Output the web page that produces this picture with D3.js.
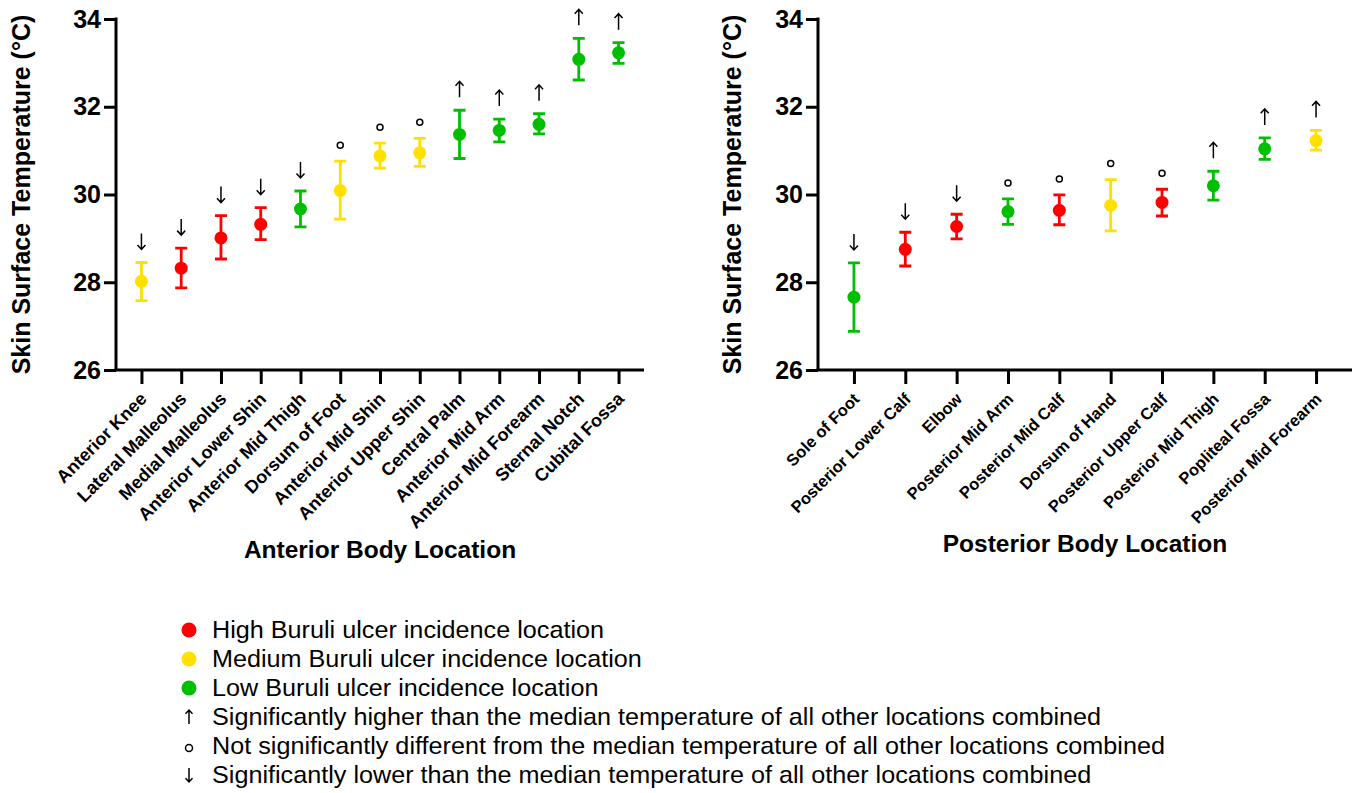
<!DOCTYPE html>
<html><head><meta charset="utf-8">
<script src="https://cdn.jsdelivr.net/npm/d3@7"></script>
<style>
body{margin:0;background:#fff;}
text{font-family:"Liberation Sans",Arial,sans-serif;}
</style></head>
<body><svg id="c" width="1357" height="793"></svg>
<script>
// ---- data ----
const anteriorLocations = ["Anterior Knee","Lateral Malleolus","Medial Malleolus","Anterior Lower Shin","Anterior Mid Thigh","Dorsum of Foot","Anterior Mid Shin","Anterior Upper Shin","Central Palm","Anterior Mid Arm","Anterior Mid Forearm","Sternal Notch","Cubital Fossa"];
const anteriorMedian = [28.02,28.32,29.01,29.32,29.67,30.09,30.88,30.95,31.37,31.46,31.60,33.08,33.23];
const anteriorUpper  = [28.45,28.78,29.52,29.70,30.08,30.76,31.17,31.28,31.92,31.72,31.84,33.56,33.46];
const anteriorLower  = [27.58,27.87,28.53,28.97,29.26,29.44,30.60,30.64,30.82,31.20,31.38,32.61,32.99];
const anteriorIncidence = ["Medium","High","High","High","Low","Medium","Medium","Medium","Low","Low","Low","Low","Low"];
const anteriorSignif = ["lower","lower","lower","lower","lower","ns","ns","ns","higher","higher","higher","higher","higher"];

const posteriorLocations = ["Sole of Foot","Posterior Lower Calf","Elbow","Posterior Mid Arm","Posterior Mid Calf","Dorsum of Hand","Posterior Upper Calf","Posterior Mid Thigh","Popliteal Fossa","Posterior Mid Forearm"];
const posteriorMedian = [27.66,28.75,29.27,29.61,29.64,29.75,29.82,30.20,31.04,31.23];
const posteriorUpper  = [28.44,29.14,29.55,29.90,29.99,30.34,30.12,30.53,31.29,31.46];
const posteriorLower  = [26.88,28.37,28.99,29.32,29.31,29.17,29.51,29.87,30.80,31.01];
const posteriorIncidence = ["Low","High","High","Low","High","Medium","High","Low","Low","Medium"];
const posteriorSignif = ["lower","lower","lower","ns","ns","ns","ns","higher","higher","higher"];

const yTicks = [26,28,30,32,34];
const incidenceLevels = ["High","Medium","Low"];
const incidenceLabels = ["High Buruli ulcer incidence location","Medium Buruli ulcer incidence location","Low Buruli ulcer incidence location"];
const signifLevels = ["higher","ns","lower"];
const signifLabels = ["Significantly higher than the median temperature of all other locations combined","Not significantly different from the median temperature of all other locations combined","Significantly lower than the median temperature of all other locations combined"];

const color = d3.scaleOrdinal().domain(incidenceLevels).range(["#ff0000","#ffe000","#00bf00"]);

const svg = d3.select("#c");

function arrowPath(x, yBottom, dir, h, hw){
  const top = yBottom - h;
  if(dir==="higher"){
    return `M${x},${yBottom}L${x},${top}M${x-hw},${top+hw*1.1}L${x},${top}L${x+hw},${top+hw*1.1}`;
  } else {
    return `M${x},${top}L${x},${yBottom}M${x-hw},${yBottom-hw*1.1}L${x},${yBottom}L${x+hw},${yBottom-hw*1.1}`;
  }
}

function drawPanel(cfg){
  const y = d3.scaleLinear().domain([26,34]).range([370,19]);
  const x = d3.scalePoint().domain(cfg.cats).range([cfg.x0,cfg.x1]).padding(cfg.pad);
  const g = svg.append("g");

  // y axis
  const ya = g.append("g").attr("transform",`translate(${cfg.x0},0)`)
    .call(d3.axisLeft(y).tickValues(yTicks).tickSize(12).tickPadding(3).tickFormat(d3.format("d")));
  ya.select(".domain").attr("stroke","#000").attr("stroke-width",3).attr("d",`M0,${y(34)-1.5}V${y(26)}`);
  ya.selectAll(".tick line").attr("stroke","#000").attr("stroke-width",3);
  ya.selectAll(".tick text").attr("font-size",25).attr("font-weight","bold").attr("fill","#000");

  // x axis
  const xa = g.append("g").attr("transform",`translate(0,370)`)
    .call(d3.axisBottom(x).tickSize(14).tickSizeOuter(0));
  xa.select(".domain").attr("stroke","#000").attr("stroke-width",3).attr("d",`M${cfg.x0-1.5},0H${cfg.x1}`);
  xa.selectAll(".tick line").attr("stroke","#000").attr("stroke-width",3);
  xa.selectAll(".tick text").attr("font-size",cfg.lblSize).attr("font-weight","bold").attr("fill","#000")
    .attr("text-anchor","end").attr("y",0).attr("dy",0)
    .attr("transform","translate(6,30) rotate(-45)");

  // titles
  g.append("text").attr("transform",`translate(${cfg.ytx},${(y(34)+y(26))/2}) rotate(-90)`)
    .attr("text-anchor","middle").attr("dominant-baseline","central")
    .attr("font-size",25).attr("font-weight","bold").text("Skin Surface Temperature (°C)");
  g.append("text").attr("x",cfg.xtx).attr("y",cfg.xty).attr("text-anchor","middle")
    .attr("font-size",24.5).attr("font-weight","bold").text(cfg.xtitle);

  const data = cfg.cats.map((c,i)=>({c,m:cfg.med[i],u:cfg.up[i],l:cfg.lo[i],inc:cfg.inc[i],s:cfg.sig[i]}));
  const pts = g.append("g").selectAll("g").data(data).join("g");
  pts.append("path")
    .attr("d",d=>{const cx=x(d.c);return `M${cx},${y(d.u)}V${y(d.l)}M${cx-6},${y(d.u)}H${cx+6}M${cx-6},${y(d.l)}H${cx+6}`;})
    .attr("stroke",d=>color(d.inc)).attr("stroke-width",2.8).attr("fill","none");
  pts.append("circle").attr("cx",d=>x(d.c)).attr("cy",d=>y(d.m)).attr("r",6.5).attr("fill",d=>color(d.inc));

  // significance markers
  pts.filter(d=>d.s!=="ns").append("path")
    .attr("d",d=>arrowPath(x(d.c), y(d.u)-13, d.s, 16, 4))
    .attr("stroke","#000").attr("stroke-width",1.5).attr("fill","none");
  pts.filter(d=>d.s==="ns").append("circle")
    .attr("cx",d=>x(d.c)).attr("cy",d=>y(d.u)-16).attr("r",3)
    .attr("stroke","#000").attr("stroke-width",1.5).attr("fill","none");
}

drawPanel({cats:anteriorLocations,med:anteriorMedian,up:anteriorUpper,lo:anteriorLower,inc:anteriorIncidence,sig:anteriorSignif,
  x0:116,x1:644,pad:0.64,ytx:21,xtx:380,xty:558,lblSize:18,xtitle:"Anterior Body Location"});
drawPanel({cats:posteriorLocations,med:posteriorMedian,up:posteriorUpper,lo:posteriorLower,inc:posteriorIncidence,sig:posteriorSignif,
  x0:818,x1:1352,pad:0.7,ytx:732,xtx:1085,xty:552,lblSize:16.5,xtitle:"Posterior Body Location"});

// legend
const leg = svg.append("g");
const rowY = d3.scalePoint().domain(d3.range(6)).range([630,775]);
function legText(yy, str){
  leg.append("text").attr("transform",`translate(212,${yy}) scale(1.05,1)`).attr("dy","0.35em")
    .attr("font-size",24).attr("fill","#000").text(str);
}
incidenceLevels.forEach((lv,i)=>{
  leg.append("circle").attr("cx",189).attr("cy",rowY(i)).attr("r",7.5).attr("fill",color(lv));
  legText(rowY(i), incidenceLabels[i]);
});
signifLevels.forEach((s,j)=>{
  const yy = rowY(j+3);
  if(s==="ns"){
    leg.append("circle").attr("cx",189).attr("cy",yy+2).attr("r",3.5).attr("stroke","#000").attr("stroke-width",1.5).attr("fill","none");
  } else {
    leg.append("path").attr("d",arrowPath(189, yy+7, s, 14, 3.5)).attr("stroke","#000").attr("stroke-width",1.5).attr("fill","none");
  }
  legText(yy, signifLabels[j]);
});
</script></body></html>
